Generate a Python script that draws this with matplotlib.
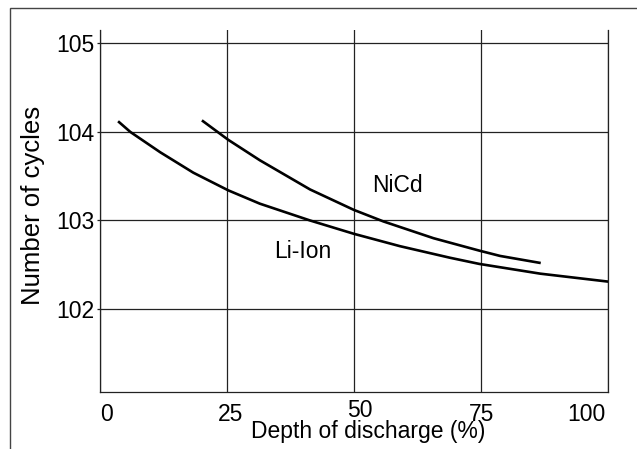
import numpy as np
import matplotlib.pyplot as plt
from matplotlib.patches import Rectangle
from matplotlib.transforms import ScaledTranslation

plt.rcParams['font.family'] = ['Liberation Sans', 'DejaVu Sans']

# values (depth of discharge %, cycle-count exponent)
li_ion_dod = [3.5, 5.9, 11.8, 18.3, 25.2, 31.4, 41.3, 49.9, 59.0, 68.8, 74.6, 86.6, 100.0]
li_ion_cyc = [104.12, 104.00, 103.77, 103.54, 103.34, 103.19, 103.0, 102.85, 102.71, 102.58, 102.51, 102.40, 102.31]
nicd_dod = [20.0, 25.2, 31.4, 41.3, 49.9, 55.7, 65.6, 74.6, 78.7, 86.7]
nicd_cyc = [104.13, 103.91, 103.68, 103.35, 103.12, 102.99, 102.80, 102.66, 102.60, 102.52]

x_ticks = [0, 25, 50, 75, 100]
x_labels = ['0', '25', '50', '75', '100']
y_ticks = [102, 103, 104, 105]
y_labels = ['102', '103', '104', '105']

fig = plt.figure(figsize=(6.37, 4.49), dpi=100)
ax = fig.add_axes([100.3 / 637, 1 - 391.5 / 449, 508 / 637, 361.5 / 449])

ax.plot(li_ion_dod, li_ion_cyc, color='black', lw=1.9, solid_capstyle='butt')
ax.plot(nicd_dod, nicd_cyc, color='black', lw=1.9, solid_capstyle='butt')

ax.set_xlim(0, 100)
ax.set_ylim(101.07, 105.15)
ax.set_xticks(x_ticks)
ax.set_xticklabels(x_labels)
ax.set_yticks(y_ticks)
ax.set_yticklabels(y_labels)
ax.grid(True, color='#222222', lw=0.9)
ax.set_axisbelow(True)

ax.spines['top'].set_visible(False)
for s in ['left', 'right', 'bottom']:
    ax.spines[s].set_color('#222222')
    ax.spines[s].set_linewidth(0.9)

ax.tick_params(axis='y', length=2.5, width=0.9, pad=1.5, labelsize=16.5, color='#222222')
ax.tick_params(axis='x', length=0, pad=8.5, labelsize=16.5)

# uneven label placement in the original
has = ['left', 'center', 'center', 'center', 'right']
offs = [(0, 0), (3, 0), (6, 4), (0, 0), (-3, 0)]
for lab, ha, (dx, dy) in zip(ax.get_xticklabels(), has, offs):
    lab.set_ha(ha)
    lab.set_transform(lab.get_transform() + ScaledTranslation(dx / 100, dy / 100, fig.dpi_scale_trans))

ax.set_xlabel('Depth of discharge (%)', fontsize=16.5)
ax.xaxis.set_label_coords(0.527, -0.08)
ax.set_ylabel('Number of cycles', fontsize=18.5)
ax.yaxis.set_label_coords(-0.109, 0.516)

ax.text(58.4, 103.39, 'NiCd', fontsize=16.5, ha='center', va='center')
ax.text(39.8, 102.65, 'Li-Ion', fontsize=16.5, ha='center', va='center')

# outer frame, cut off at right and bottom
fig.patches.append(Rectangle((10 / 637, -0.1), 1.2, 1.1 - 8 / 449, transform=fig.transFigure,
                             fill=False, edgecolor='#444444', lw=1.0))

fig.savefig('out.png', dpi=100)
